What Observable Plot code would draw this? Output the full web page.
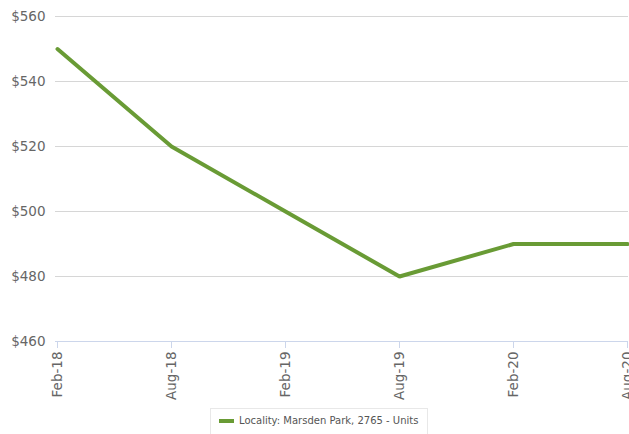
<!DOCTYPE html>
<html>
<head>
<meta charset="utf-8">
<script src="https://cdn.jsdelivr.net/npm/d3@7"></script>
<script src="https://cdn.jsdelivr.net/npm/@observablehq/plot@0.6"></script>
<style>
  html, body { margin: 0; padding: 0; background: #fff; overflow: hidden; }
  body { width: 629px; height: 434px; font-family: "DejaVu Sans", sans-serif; }
  #legend {
    position: absolute; left: 210px; top: 408px;
    border: 1px solid #e8e8e8; padding: 6px 9px 10px 8px;
    font-size: 10px; color: #555; display: flex; align-items: center; white-space: nowrap;
  }
  #legend .sw { display: inline-block; width: 15px; height: 4px; background: #699b35; margin-right: 5px; }
</style>
</head>
<body>
<div id="chart"></div>
<div id="legend"><span class="sw"></span><span>Locality: Marsden Park, 2765 - Units</span></div>
<script>
const periods = ["Feb-18", "Aug-18", "Feb-19", "Aug-19", "Feb-20", "Aug-20"];
const rents = [550, 520, 500, 480, 490, 490];
const yTicks = [460, 480, 500, 520, 540, 560];
const seriesName = "Locality: Marsden Park, 2765 - Units";

const data = periods.map((p, i) => ({period: p, rent: rents[i]}));

const chart = Plot.plot({
  width: 629,
  height: 400,
  marginTop: 16,
  marginBottom: 59,
  marginLeft: 55,
  marginRight: 1,
  style: {fontFamily: "DejaVu Sans, sans-serif", background: "#fff", overflow: "visible"},
  x: {type: "point", domain: periods, padding: 0},
  y: {domain: [460, 560]},
  marks: [
    Plot.ruleY(yTicks.slice(1), {stroke: "#d6d6d6", strokeWidth: 1, strokeOpacity: 1}),
    Plot.ruleY([460], {stroke: "#ccd6eb", strokeWidth: 1}),
    Plot.axisY({ticks: yTicks, tickSize: 0, tickPadding: 10, tickFormat: d => "$" + d,
      fontSize: 13.5, fill: "#666", label: null}),
    Plot.axisX({tickSize: 7, stroke: "#ccd6eb", strokeOpacity: 1, tickRotate: -90, tickPadding: 3,
      fontSize: 13.5, fill: "#666", label: null}),
    Plot.line(data, {x: "period", y: "rent", stroke: "#699b35", strokeWidth: 4, strokeLinejoin: "miter"})
  ]
});
document.getElementById("chart").appendChild(chart);
</script>
</body>
</html>
